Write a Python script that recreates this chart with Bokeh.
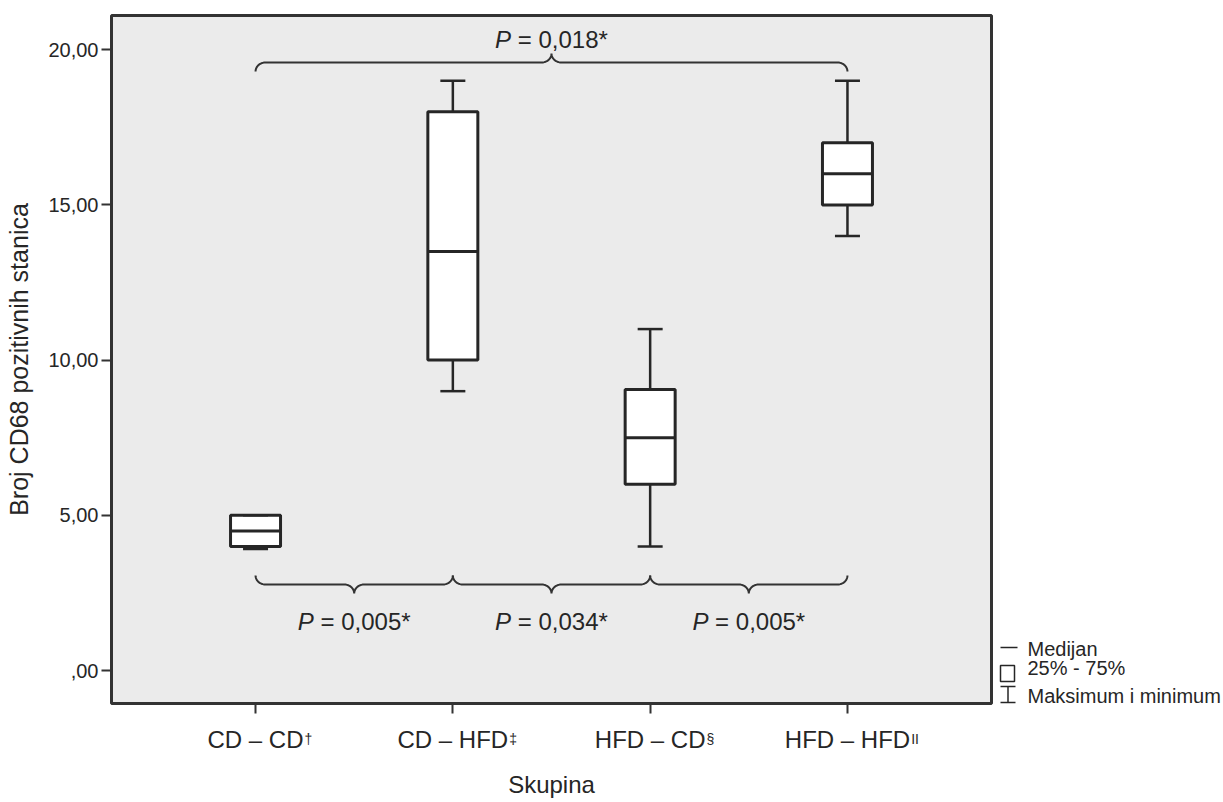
import numpy as np
from bokeh.plotting import figure
from bokeh.models import FixedTicker, Range1d
from bokeh.embed import file_html
from bokeh.resources import INLINE
from bokeh.core.properties import value

# ---------------- data ----------------
groups = ["CD – CD", "CD – HFD", "HFD – CD", "HFD – HFD"]
group_marks = ["†", "‡", "§", "II"]
q_min = [3.92, 9.0, 4.0, 14.0]
q1 = [4.0, 10.0, 6.0, 15.0]
median = [4.5, 13.5, 7.5, 16.0]
q3 = [5.0, 18.0, 9.05, 17.0]
q_max = [5.0, 19.0, 11.0, 19.0]
y_ticks = [0, 5, 10, 15, 20]
y_tick_labels = [",00", "5,00", "10,00", "15,00", "20,00"]
pair_from = [1, 2, 3]
pair_to = [2, 3, 4]
pair_p = ["0,005*", "0,034*", "0,005*"]
overall_from, overall_to, overall_p = 1, 4, "0,018*"
legend_labels = ["Medijan", "25% - 75%", "Maksimum i minimum"]
x_label = "Skupina"
y_label = "Broj CD68 pozitivnih stanica"

# ---------------- layout ----------------
W, H = 1223, 802
X0, X1 = 0.27, 4.73
Y0, Y1 = -1.06, 21.1
FL, FT, FW, FH = 111, 15, 880, 688  # frame in page pixels
PXX = FW / (X1 - X0)   # px per x unit
PXY = FH / (Y1 - Y0)   # px per y unit
FONT = "Liberation Sans"
INK = "#262626"


def px2x(px):
    return X0 + (px - FL) / PXX


def py2y(py):
    return Y1 - (py - FT) / PXY


xs = np.arange(1, len(groups) + 1)

p = figure(width=W, height=H, x_range=Range1d(X0, X1), y_range=Range1d(Y0, Y1),
           output_backend="svg", toolbar_location=None,
           min_border_left=FL, min_border_right=W - FL - FW,
           min_border_top=FT, min_border_bottom=H - FT - FH)
p.background_fill_color = "#ebebeb"
p.border_fill_color = "white"
p.outline_line_color = "#333333"
p.outline_line_width = 3
p.grid.visible = False

# axes
p.xaxis.ticker = FixedTicker(ticks=list(xs))
p.xaxis.major_label_overrides = {int(x): g for x, g in zip(xs, groups)}
p.yaxis.ticker = FixedTicker(ticks=y_ticks)
p.yaxis.major_label_overrides = {t: l for t, l in zip(y_ticks, y_tick_labels)}
for ax in (p.xaxis[0], p.yaxis[0]):
    ax.axis_line_color = None
    ax.major_tick_in = 0
    ax.major_tick_out = 10
    ax.major_tick_line_color = "#333333"
    ax.major_tick_line_width = 2
    ax.minor_tick_line_color = None
    ax.major_label_text_font = FONT
    ax.major_label_text_color = INK
    ax.axis_label_text_font = FONT
    ax.axis_label_text_font_style = "normal"
    ax.axis_label_text_color = INK
p.xaxis.major_label_text_font_size = "24px"
p.xaxis.major_label_standoff = 12
p.xaxis.axis_label = x_label
p.xaxis.axis_label_text_font_size = "24px"
p.xaxis.axis_label_standoff = 15
p.yaxis.major_label_text_font_size = "20px"
p.yaxis.major_label_standoff = 3
p.yaxis.axis_label = y_label
p.yaxis.axis_label_text_font_size = "25px"
p.yaxis.axis_label_standoff = 12

# ---------------- boxes ----------------
box_w = 50 / PXX
cap_w = 25 / PXX
p.segment(x0=xs, x1=xs, y0=q3, y1=q_max, line_color=INK, line_width=2.5)
p.segment(x0=xs, x1=xs, y0=q1, y1=q_min, line_color=INK, line_width=2.5)
p.vbar(x=xs, width=box_w, bottom=q1, top=q3, fill_color="white",
       line_color=INK, line_width=3)
p.segment(x0=xs - box_w / 2, x1=xs + box_w / 2, y0=median, y1=median,
          line_color=INK, line_width=3)
p.segment(x0=xs - cap_w / 2, x1=xs + cap_w / 2, y0=q_max, y1=q_max,
          line_color=INK, line_width=2.5)
p.segment(x0=xs - cap_w / 2, x1=xs + cap_w / 2, y0=q_min, y1=q_min,
          line_color=INK, line_width=2.5)


# ---------------- braces ----------------
def brace(xa, xb, yb, s):
    rx = 10 / PXX
    hy = 9 / PXY
    xm = (xa + xb) / 2
    t = np.linspace(0, np.pi / 2, 12)
    ax_ = xa + rx * (1 - np.cos(t))
    ay_ = yb + s * hy * (1 - np.sin(t))
    bx_ = xm - rx + rx * np.sin(t)
    by_ = yb - s * hy * (1 - np.cos(t))
    lx = np.concatenate([ax_, bx_])
    ly = np.concatenate([ay_, by_])
    rxs = 2 * xm - lx[::-1]
    rys = ly[::-1]
    return np.concatenate([lx, rxs]), np.concatenate([ly, rys])


def p_label(xc, yc, val):
    fs = 24
    total = 4.698 * fs
    start = xc - (total / 2) / PXX
    split = start + (0.667 * fs) / PXX
    p.text(x=[split], y=[yc], text=["P"], text_font=value(FONT),
           text_font_style="italic", text_font_size=f"{fs}px",
           text_align="right", text_baseline="middle", text_color=INK)
    p.text(x=[split + (0.278 * fs) / PXX], y=[yc], text=["= " + val],
           text_font=value(FONT), text_font_size=f"{fs}px",
           text_align="left", text_baseline="middle", text_color=INK)


y_bottom_brace = py2y(584)
y_top_brace = py2y(62)
for a, b, pv in zip(pair_from, pair_to, pair_p):
    bx, by = brace(a, b, y_bottom_brace, +1)
    p.line(bx, by, line_color="#333333", line_width=2)
    p_label((a + b) / 2, py2y(621), pv)
bx, by = brace(overall_from, overall_to, y_top_brace, -1)
p.line(bx, by, line_color="#333333", line_width=2)
p_label((overall_from + overall_to) / 2, py2y(38.5), overall_p)

# ---------------- superscripts on category labels ----------------
em_w = {"C": 0.722, "D": 0.722, "H": 0.722, "F": 0.611, " ": 0.278, "–": 0.556}
half_px = [sum(em_w.get(c, 0.556) for c in g) * 24 / 2 for g in groups]
sup_x = [x + (hp + 1) / PXX for x, hp in zip(xs, half_px)]
p.text(x=sup_x, y=[py2y(730)] * len(groups), text=group_marks,
       text_font=value(FONT), text_font_size="14px", text_align="left",
       text_baseline="top", text_color=INK, level="overlay")

# ---------------- legend (drawn outside the frame) ----------------
lx0, lx1 = px2x(1000), px2x(1017)
p.segment(x0=[lx0], x1=[lx1], y0=[py2y(647)], y1=[py2y(647)],
          line_color=INK, line_width=1.5, level="overlay")
p.quad(left=[px2x(1000)], right=[px2x(1014)], top=[py2y(665)], bottom=[py2y(681)],
       fill_color="white", line_color=INK, line_width=1.5, level="overlay")
lxm = px2x(1007.5)
p.segment(x0=[lxm, px2x(1000), px2x(1000)], x1=[lxm, px2x(1015), px2x(1015)],
          y0=[py2y(686), py2y(686), py2y(702)], y1=[py2y(702), py2y(686), py2y(702)],
          line_color=INK, line_width=1.5, level="overlay")
p.text(x=[px2x(1027)] * 3, y=[py2y(648), py2y(667), py2y(695)], text=legend_labels,
       text_font=value(FONT), text_font_size="20px", text_align="left",
       text_baseline="middle", text_color=INK, level="overlay")

open("out.html", "w").write(file_html(p, INLINE))
